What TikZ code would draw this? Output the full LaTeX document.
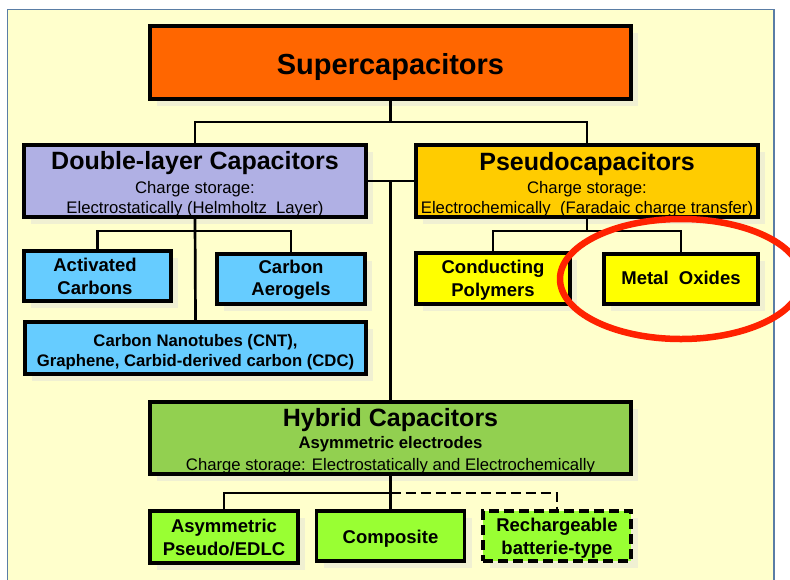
\documentclass[tikz,border=0pt]{standalone}
\usepackage{fontspec}
\setmainfont{Liberation Sans}
\usetikzlibrary{shadows}
\definecolor{bgc}{HTML}{FFFFCC}
\definecolor{framec}{HTML}{5A7DA5}
\definecolor{orangec}{HTML}{FF6600}
\definecolor{lavc}{HTML}{B0B0E4}
\definecolor{goldc}{HTML}{FFCC00}
\definecolor{skyc}{HTML}{66CCFF}
\definecolor{yelc}{HTML}{FFFF00}
\definecolor{hgreenc}{HTML}{92D050}
\definecolor{lgreenc}{HTML}{99FF33}
\definecolor{shadc}{HTML}{F0F0D2}
\definecolor{redc}{HTML}{FF2200}
\begin{document}
\begin{tikzpicture}[x=1pt,y=-1pt,
  box/.style={draw=black, line width=3.6pt, rectangle, inner sep=0pt, anchor=center,
    drop shadow={shadow xshift=7pt, shadow yshift=-7pt, fill=shadc, opacity=1}},
  conn/.style={draw=black, line width=2.7pt},
  dashconn/.style={conn, dash pattern=on 10pt off 5pt},
  bigtxt/.style={font=\bfseries\fontsize{29}{34}\selectfont, anchor=base, inner sep=0pt},
  titletxt/.style={font=\bfseries\fontsize{25}{30}\selectfont, anchor=base, inner sep=0pt},
  subtxt/.style={font=\fontsize{16.7}{19}\selectfont, anchor=base, inner sep=0pt},
  subbold/.style={font=\bfseries\fontsize{16.7}{19}\selectfont, anchor=base, inner sep=0pt},
  childtxt/.style={font=\bfseries\fontsize{18.5}{22}\selectfont, anchor=base, inner sep=0pt},
  cnttxt/.style={font=\bfseries\fontsize{16.7}{20}\selectfont, anchor=base, inner sep=0pt}]
\clip (0,0) rectangle (790,579);
\fill[white] (0,0) rectangle (790,579);
\draw[draw=framec, fill=bgc, line width=1.5pt] (7.5,9.5) rectangle (774,600);

% boxes
\node[box, fill=orangec, minimum width=481pt, minimum height=73pt] (sc) at (390.5,62.5) {};
\node[box, fill=lavc, minimum width=342pt, minimum height=72pt] (dl) at (195,181) {};
\node[box, fill=goldc, minimum width=342pt, minimum height=72pt] (ps) at (587,181) {};
\node[box, fill=skyc, minimum width=147pt, minimum height=50pt] (ac) at (97.5,276) {};
\node[box, fill=skyc, minimum width=148pt, minimum height=50pt] (ca) at (291,279) {};
\node[box, fill=skyc, minimum width=341pt, minimum height=52pt] (cnt) at (195.5,348) {};
\node[box, fill=yelc, minimum width=154pt, minimum height=51pt] (cp) at (493,278.5) {};
\node[box, fill=yelc, minimum width=154pt, minimum height=50pt] (mo) at (681,279) {};
\node[box, fill=hgreenc, minimum width=481pt, minimum height=72pt] (hy) at (390.5,438) {};
\node[box, fill=lgreenc, minimum width=148pt, minimum height=52pt] (as) at (224,537) {};
\node[box, fill=lgreenc, minimum width=148pt, minimum height=50pt] (co) at (390.5,536) {};
\node[box, fill=lgreenc, minimum width=148pt, minimum height=50pt, dash pattern=on 10pt off 5pt] (rb) at (557,536) {};

% junction coordinates
\coordinate (j1) at (390.5,122);
\coordinate (j2) at (195,231);
\coordinate (j3) at (587,231);
\coordinate (j4) at (390.5,493);

% connectors
\draw[conn] (sc.south) -- (j1);
\draw[conn] (dl.north) |- (j1) -| (ps.north);
\draw[conn] (dl.east) -- (ps.west);
\draw[conn] (sc.south |- dl.east) -- (hy.north);
\draw[conn] (dl.south) -- (cnt.north);
\draw[conn] (ac.north) |- (j2) -| (ca.north);
\draw[conn] (ps.south) -- (j3);
\draw[conn] (cp.north) |- (j3) -| (mo.north);
\draw[conn] (hy.south) -- (co.north);
\draw[conn] (as.north) |- (j4);
\draw[dashconn] (j4) -| (rb.north);

% texts
\node[bigtxt] (t1) at (390.5,74) {Supercapacitors};
\node[titletxt] (t2) at (195,169.5) {Double-layer Capacitors};
\node[subtxt] (t3) at (195,193) {Charge storage:};
\node[subtxt] (t4) at (195,213.5) {Electrostatically (Helmholtz\ \ Layer)};
\node[titletxt] (t5) at (587,170) {Pseudocapacitors};
\node[subtxt] (t6) at (587,193) {Charge storage:};
\node[subtxt] (t7) at (587,213.5) {Electrochemically\ \ (Faradaic charge transfer)};
\node[childtxt] (t8) at (95,271.5) {Activated};
\node[childtxt] (t9) at (95,294) {Carbons};
\node[childtxt] (t10) at (291,273.5) {Carbon};
\node[childtxt] (t11) at (291,295.5) {Aerogels};
\node[cnttxt] (t12) at (195.5,346) {Carbon Nanotubes (CNT),};
\node[cnttxt] (t13) at (195.5,366) {Graphene, Carbid-derived carbon (CDC)};
\node[childtxt] (t14) at (493,273.5) {Conducting};
\node[childtxt] (t15) at (493,296) {Polymers};
\node[childtxt] (t16) at (681,284.5) {Metal\ \ Oxides};
\node[titletxt] (t17) at (390.5,426) {Hybrid Capacitors};
\node[subbold] (t18) at (390.5,448) {Asymmetric electrodes};
\node[subtxt] (t19) at (390.5,470) {Charge storage: Electrostatically and Electrochemically};
\node[childtxt] (t20) at (224,532) {Asymmetric};
\node[childtxt] (t21) at (224,555) {Pseudo/EDLC};
\node[childtxt] (t22) at (390.5,543) {Composite};
\node[childtxt] (t23) at (557,531.5) {Rechargeable};
\node[childtxt] (t24) at (557,554) {batterie-type};

% highlight ellipse
\draw[draw=redc, line width=6.5pt] (mo.center) ellipse [x radius=121pt, y radius=60pt];
\end{tikzpicture}
\end{document}
